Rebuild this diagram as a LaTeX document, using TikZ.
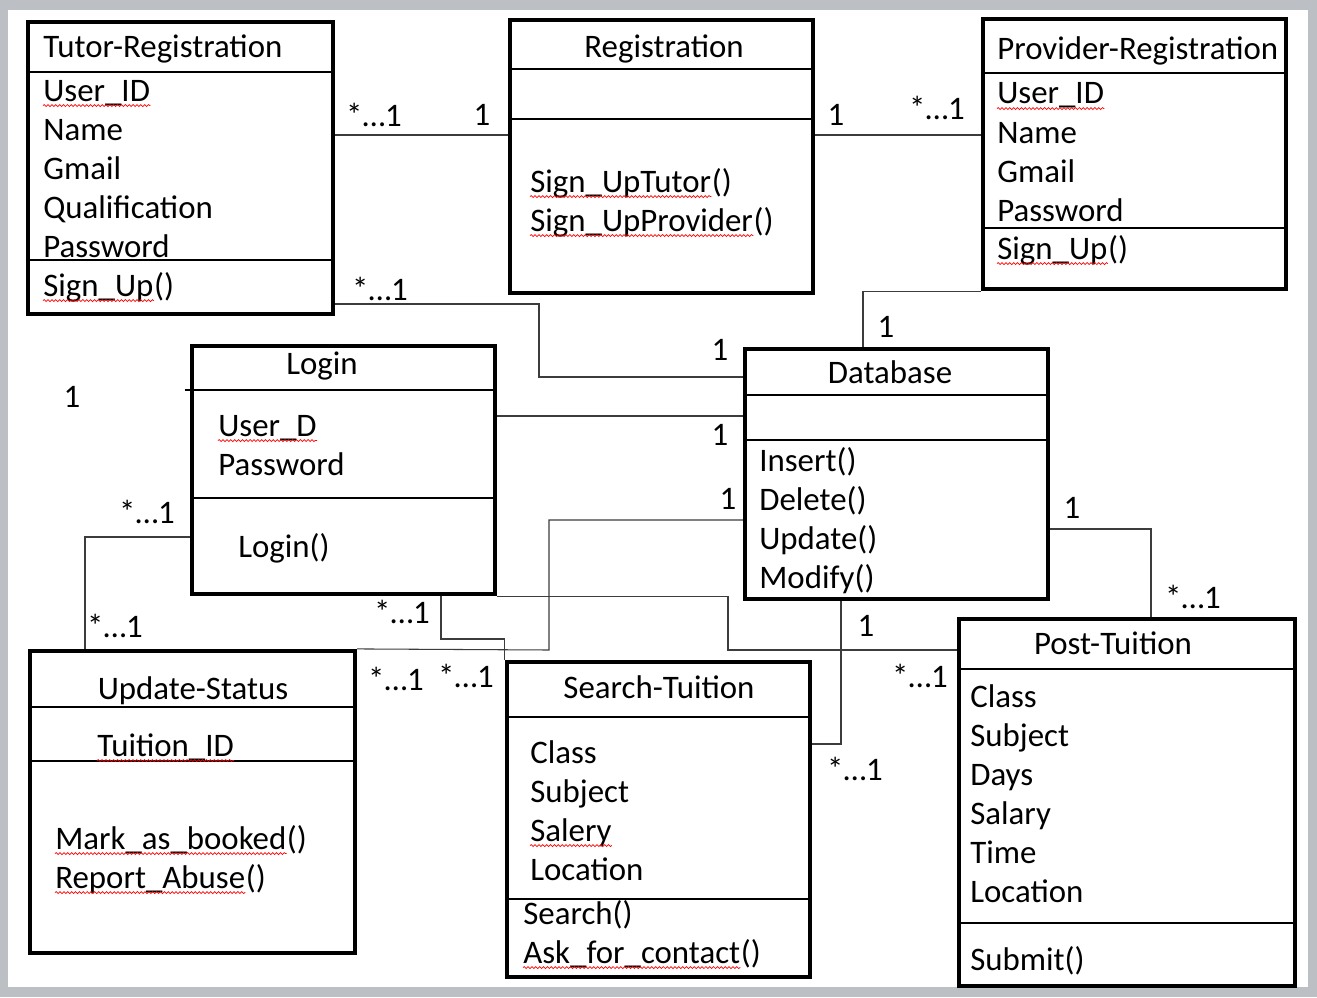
\documentclass[tikz,border=0pt]{standalone}
\usepackage{fontspec}
\setmainfont{Carlito}
\usetikzlibrary{decorations.pathmorphing}
\definecolor{pagegray}{RGB}{188,192,197}
\definecolor{linkgray}{RGB}{60,60,60}
\tikzset{
classbox/.style=
    {rectangle,
    draw=black,
    line width=2.4pt,
    fill=white,
    inner sep=0pt
    },
sep/.style=
    {draw=black,
    line width=0.8pt
    },
conn/.style=
    {draw=linkgray,
    line width=0.6pt
    },
title/.style={anchor=base, inner sep=0pt},
attr/.style={anchor=base west, inner sep=0pt},
mult/.style={inner sep=0pt},
spell/.style=
    {append after command={([yshift=-2.6pt]\tikzlastnode.base west) edge[draw=red, line width=0.4pt, decorate,
     decoration={snake, amplitude=0.55pt, segment length=2.2pt}] ([yshift=-2.6pt]\tikzlastnode.base east)}
    }
}

\begin{document}
\begin{tikzpicture}[x=0.02cm, y=-0.02cm, font=\fontsize{18.7}{22}\selectfont]
\useasboundingbox (0,0) rectangle (1317,997);
\fill[pagegray] (0,0) rectangle (1317,997);
\fill[white] (8,10) rectangle (1308,987);

% class boxes
\node[classbox, minimum width=6.10cm, minimum height=5.84cm] (tutor) at (180.5,168) {};
\node[classbox, minimum width=6.06cm, minimum height=5.46cm] (reg) at (661.5,156.5) {};
\node[classbox, minimum width=6.06cm, minimum height=5.40cm] (prov) at (1134.5,154) {};
\node[classbox, minimum width=6.06cm, minimum height=4.96cm] (login) at (343.5,470) {};
\node[classbox, minimum width=6.06cm, minimum height=5.00cm] (db) at (896.5,474) {};
\node[classbox, minimum width=6.50cm, minimum height=6.04cm] (upd) at (192.5,802) {};
\node[classbox, minimum width=6.06cm, minimum height=6.30cm] (search) at (658.5,819.5) {};
\node[classbox, minimum width=6.72cm, minimum height=7.34cm] (post) at (1127,802.5) {};

\draw[sep] (tutor.west |- 0,72) -- (tutor.east |- 0,72);
\draw[sep] (tutor.west |- 0,260) -- (tutor.east |- 0,260);
\draw[sep] (reg.west |- 0,69) -- (reg.east |- 0,69);
\draw[sep] (reg.west |- 0,119) -- (reg.east |- 0,119);
\draw[sep] (prov.west |- 0,73) -- (prov.east |- 0,73);
\draw[sep] (prov.west |- 0,228) -- (prov.east |- 0,228);
\draw[sep] ([xshift=-3pt]login.west |- 0,390) -- (login.east |- 0,390);
\draw[sep] (login.west |- 0,498) -- (login.east |- 0,498);
\draw[sep] (db.west |- 0,395) -- (db.east |- 0,395);
\draw[sep] (db.west |- 0,440) -- (db.east |- 0,440);
\draw[sep] (upd.west |- 0,707) -- (upd.east |- 0,707);
\draw[sep] (upd.west |- 0,761) -- (upd.east |- 0,761);
\draw[sep] (search.west |- 0,717) -- (search.east |- 0,717);
\draw[sep] (search.west |- 0,899) -- (search.east |- 0,899);
\draw[sep] (post.west |- 0,669) -- (post.east |- 0,669);
\draw[sep] (post.west |- 0,923) -- (post.east |- 0,923);

% Tutor-Registration
\node[attr] (tutorT) at (43,58) {Tutor-Registration};
\node[attr, spell] (tutorA1) at (43,101) {User\_ID};
\node[attr] (tutorA2) at (43,140) {Name};
\node[attr] (tutorA3) at (43,179) {Gmail};
\node[attr] (tutorA4) at (43,218) {Qualification};
\node[attr] (tutorA5) at (43,257) {Password};
\node[attr, spell] (tutorM1) at (43,296) {Sign\_Up};
\node[attr] (tutorM1b) at (tutorM1.base east) {()};

% Registration
\node[title] (regT) at (664,58) {Registration};
\node[attr, spell] (regM1) at (530,192) {Sign\_UpTutor};
\node[attr] (regM1b) at (regM1.base east) {()};
\node[attr, spell] (regM2) at (530,231) {Sign\_UpProvider};
\node[attr] (regM2b) at (regM2.base east) {()};

% Provider-Registration
\node[attr] (provT) at (997,60) {Provider-Registration};
\node[attr, spell] (provA1) at (997,104) {User\_ID};
\node[attr] (provA2) at (997,143) {Name};
\node[attr] (provA3) at (997,182) {Gmail};
\node[attr] (provA4) at (997,221) {Password};
\node[attr, spell] (provM1) at (997,259) {Sign\_Up};
\node[attr] (provM1b) at (provM1.base east) {()};

% Login
\node[title] (loginT) at (322,374) {Login};
\node[attr, spell] (loginA1) at (218,436) {User\_D};
\node[attr] (loginA2) at (218,475) {Password};
\node[attr] (loginM1) at (238,557) {Login()};

% Database
\node[title] (dbT) at (890,383) {Database};
\node[attr] (dbM1) at (759,471) {Insert()};
\node[attr] (dbM2) at (759,510) {Delete()};
\node[attr] (dbM3) at (759,549) {Update()};
\node[attr] (dbM4) at (759,588) {Modify()};

% Update-Status
\node[title] (updT) at (193,699) {Update-Status};
\node[attr, spell] (updA1) at (97,756) {Tuition\_ID};
\node[attr, spell] (updM1) at (55,849) {Mark\_as\_booked};
\node[attr] (updM1b) at (updM1.base east) {()};
\node[attr, spell] (updM2) at (55,888) {Report\_Abuse};
\node[attr] (updM2b) at (updM2.base east) {()};

% Search-Tuition
\node[title] (searchT) at (659,698) {Search-Tuition};
\node[attr] (searchA1) at (530,763) {Class};
\node[attr] (searchA2) at (530,802) {Subject};
\node[attr, spell] (searchA3) at (530,841) {Salery};
\node[attr] (searchA4) at (530,880) {Location};
\node[attr] (searchM1) at (523,924) {Search()};
\node[attr, spell] (searchM2) at (523,963) {Ask\_for\_contact};
\node[attr] (searchM2b) at (searchM2.base east) {()};

% Post-Tuition
\node[title] (postT) at (1113,654) {Post-Tuition};
\node[attr] (postA1) at (970,707) {Class};
\node[attr] (postA2) at (970,746) {Subject};
\node[attr] (postA3) at (970,785) {Days};
\node[attr] (postA4) at (970,824) {Salary};
\node[attr] (postA5) at (970,863) {Time};
\node[attr] (postA6) at (970,902) {Location};
\node[attr] (postM1) at (970,970) {Submit()};

% associations
\draw[conn] (tutor.east |- 0,135) -- (reg.west |- 0,135);
\draw[conn] (reg.east |- 0,135) -- (prov.west |- 0,135);
\draw[conn] (tutor.east |- 0,304) -| (539,377) -- (db.west |- 0,377);
\draw[conn] (prov.south west) -| (db.north -| 863,0);
\draw[conn] (login.east |- 0,416) -- (db.west |- 0,416);
\draw[conn] (login.west |- 0,537) -| (upd.north -| 85,0);
\draw[conn] (db.west |- 0,520) -| (549,650) -- (upd.north east);
\draw[conn] (login.south -| 441,0) |- (search.north west |- 0,639) -- (search.north west);
\draw[conn] (login.south east) -| (728,650) -- (post.west |- 0,650);
\draw[conn] (db.south -| 841,0) |- (search.east |- 0,744);
\draw[conn] (db.east |- 0,529) -| (post.north -| 1151,0);

% multiplicities
\node[mult] (m1) at (374,115) {*…1};
\node[mult] (m2) at (482,115) {1};
\node[mult] (m3) at (836,115) {1};
\node[mult] (m4) at (937,108) {*…1};
\node[mult] (m5) at (380,289) {*…1};
\node[mult] (m6) at (720,350) {1};
\node[mult] (m7) at (886,327) {1};
\node[mult] (m8) at (72,397) {1};
\node[mult] (m9) at (720,435) {1};
\node[mult] (m10) at (728,499) {1};
\node[mult] (m11) at (147,512) {*…1};
\node[mult] (m12) at (1072,508) {1};
\node[mult] (m13) at (1193,597) {*…1};
\node[mult] (m14) at (402,612) {*…1};
\node[mult] (m15) at (115,626) {*…1};
\node[mult] (m16) at (866,626) {1};
\node[mult] (m17) at (396,679) {*…1};
\node[mult] (m18) at (466,676) {*…1};
\node[mult] (m19) at (920,676) {*…1};
\node[mult] (m20) at (855,769) {*…1};
\end{tikzpicture}
\end{document}
